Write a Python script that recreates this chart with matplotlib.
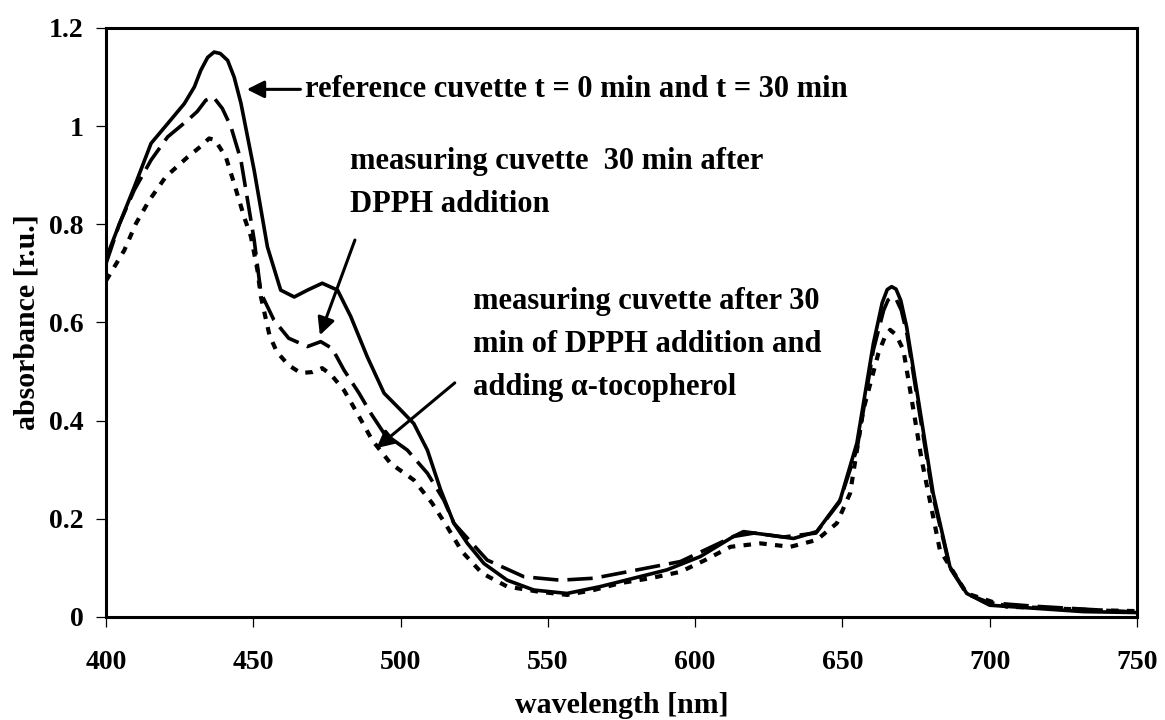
import matplotlib

matplotlib.use("Agg")
import matplotlib.pyplot as plt
from matplotlib.ticker import FuncFormatter, MultipleLocator

# reference cuvette (solid)
ref_wl = [400, 404.5, 409.6, 415.3, 420.9, 426.6, 430.0, 432.2, 434.5, 436.7, 438.8, 441.3,
          443.5, 445.8, 450.3, 454.8, 459.3, 463.9, 468.4, 473.4, 478.6, 483.1, 488.7,
          494.4, 500, 504.5, 509.1, 513.6, 518.1, 522.7, 528.3, 536.2, 545.2, 556.5,
          567.8, 579.1, 590.4, 601.7, 613, 616.4, 625, 633.4, 641.3, 649.2, 654.9, 660.5,
          663.5, 665.2, 666.7, 668.2, 669.8, 671.8, 676.3, 680.8, 686.5, 692.2, 700,
          714.7, 731.7, 750]
ref_abs = [0.73, 0.80, 0.876, 0.965, 1.005, 1.046, 1.08, 1.114, 1.14, 1.151, 1.148, 1.134,
           1.10, 1.047, 0.910, 0.754, 0.666, 0.652, 0.666, 0.680, 0.666, 0.612, 0.530,
           0.456, 0.422, 0.394, 0.340, 0.259, 0.191, 0.150, 0.109, 0.075, 0.055, 0.048,
           0.062, 0.079, 0.096, 0.123, 0.164, 0.174, 0.167, 0.160, 0.174, 0.238, 0.354, 0.557,
           0.640, 0.667, 0.673, 0.668, 0.645, 0.591, 0.422, 0.252, 0.102, 0.048, 0.024,
           0.018, 0.011, 0.009]

# measuring cuvette 30 min after DPPH (long dashes)
dpph_wl = [400, 404.5, 409.6, 415.3, 420.9, 427.7, 431.0, 433.9, 436.5, 439.5, 442.4,
           445.8, 450.3, 452.6, 457, 462, 468.4, 472.9, 476.8, 480.8, 485.9, 489.9,
           494.4, 502.3, 509.1, 514.7, 518.1, 529.4, 541.9, 554.2, 565.6, 576.9, 595,
           613, 620, 630, 641, 649, 655, 660.5, 664, 665.5, 666.8, 668.2, 670, 672,
           676.3, 680.8, 686.5, 692.2, 700, 715, 732, 750]
dpph_abs = [0.72, 0.80, 0.87, 0.931, 0.978, 1.012, 1.03, 1.053, 1.059, 1.036, 0.999,
            0.931, 0.768, 0.660, 0.605, 0.568, 0.551, 0.561, 0.547, 0.503, 0.456, 0.415,
            0.374, 0.340, 0.293, 0.238, 0.191, 0.116, 0.082, 0.075, 0.079, 0.092, 0.113,
            0.164, 0.171, 0.163, 0.171, 0.234, 0.344, 0.544, 0.625, 0.646, 0.652, 0.648,
            0.625, 0.574, 0.411, 0.244, 0.100, 0.047, 0.029, 0.022, 0.016, 0.010]

# measuring cuvette + alpha-tocopherol (short dashes)
toco_wl = [400, 406.2, 410.2, 414.7, 420.3, 427.7, 432.0, 435, 437, 440.7, 443.5, 446.9,
           449.2, 451.4, 452.6, 455.5, 458, 462, 466.1, 470, 473.4, 476.5, 480.8, 485.3,
           490.4, 496.6, 504.5, 510.7, 515.8, 520.9, 527.7, 536.2, 546.4, 556.5, 565.6,
           574.6, 584.8, 595, 603.4, 612, 622.2, 632.3, 641.3, 648.1, 652.6, 657.1, 662.2,
           664.5, 666.2, 668.2, 670.7, 674.1, 676.9, 683.1, 692.2, 705.8, 720, 735, 750]
toco_abs = [0.685, 0.747, 0.802, 0.849, 0.897, 0.937, 0.958, 0.975, 0.972, 0.937, 0.883,
            0.815, 0.775, 0.707, 0.652, 0.574, 0.54, 0.513, 0.497, 0.499, 0.507, 0.493,
            0.462, 0.415, 0.360, 0.313, 0.279, 0.232, 0.184, 0.133, 0.089, 0.062, 0.052,
            0.045, 0.055, 0.069, 0.079, 0.092, 0.116, 0.143, 0.150, 0.143, 0.157, 0.191,
            0.252, 0.422, 0.537, 0.572, 0.585, 0.575, 0.544, 0.422, 0.320, 0.136, 0.048,
            0.021, 0.018, 0.014, 0.012]

plt.rcParams["font.family"] = ["Liberation Serif", "DejaVu Serif"]
plt.rcParams["font.weight"] = "bold"

fig = plt.figure(figsize=(11.65, 7.2), dpi=100)
ax = fig.add_axes([106 / 1165, 1 - 617 / 720, (1137 - 106) / 1165, (617 - 28) / 720])

ax.plot(ref_wl, ref_abs, color="black", lw=2.6, solid_joinstyle="round")
ax.plot(dpph_wl, dpph_abs, color="black", lw=2.6, dashes=(7, 2.5))
ax.plot(toco_wl, toco_abs, color="black", lw=3.0, dashes=(1.8, 2.0))

ax.set_xlim(400, 750)
ax.set_ylim(0, 1.2)
ax.xaxis.set_major_locator(MultipleLocator(50))
ax.yaxis.set_major_locator(MultipleLocator(0.2))
ax.yaxis.set_major_formatter(FuncFormatter(lambda v, p: f"{v:g}"))

for s in ax.spines.values():
    s.set_linewidth(2.2)
ax.tick_params(axis="both", direction="out", length=7, width=0.9, labelsize=20)
ax.tick_params(axis="x", pad=17)
ax.tick_params(axis="y", pad=9)

ax.set_xlabel("wavelength [nm]", fontsize=21.5, fontweight="bold", labelpad=12)
ax.set_ylabel("absorbance [r.u.]", fontsize=21.5, fontweight="bold", labelpad=6)

txt = dict(fontsize=22, fontweight="bold", linespacing=1.63)
arrow = dict(arrowstyle="-|>", color="black", lw=2.2, mutation_scale=26, shrinkA=0, shrinkB=0)

ax.text(467.5, 1.075, "reference cuvette t = 0 min and t = 30 min", va="center", ha="left", **txt)
ax.annotate("", xy=(447.8, 1.075), xytext=(466.0, 1.075), arrowprops=arrow)

ax.text(482.8, 0.885, "measuring cuvette  30 min after\nDPPH addition", va="center", ha="left", **txt)
ax.annotate("", xy=(472.6, 0.574), xytext=(484.5, 0.768), arrowprops=arrow)

ax.text(524.5, 0.555, "measuring cuvette after 30\nmin of DPPH addition and\nadding \u03b1-tocopherol",
        va="center", ha="left", **txt)
ax.annotate("", xy=(491.8, 0.344), xytext=(518.4, 0.477), arrowprops=arrow)

fig.savefig("out.png", dpi=100)
